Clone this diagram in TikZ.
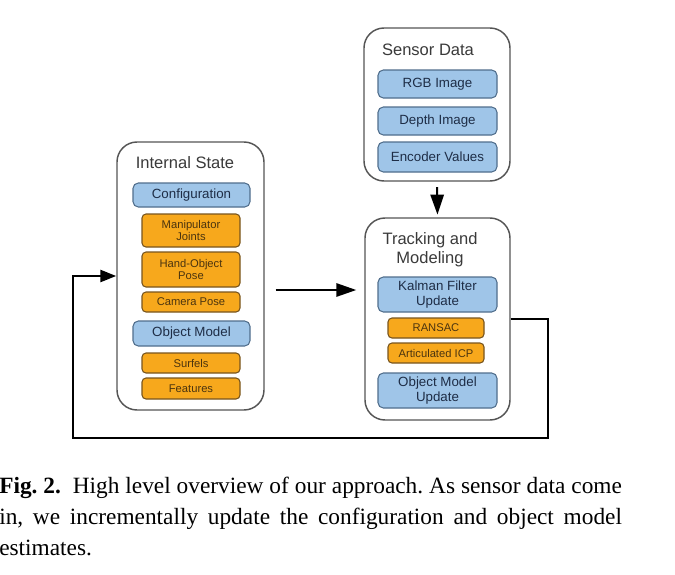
\documentclass[tikz,border=0pt]{standalone}
\usepackage{fontspec}
\setmainfont{Liberation Serif}
\setsansfont{Liberation Sans}
\usetikzlibrary{arrows.meta, calc, positioning}
\definecolor{panelline}{RGB}{85,85,85}
\definecolor{titletext}{RGB}{58,58,58}
\definecolor{bluefill}{RGB}{159,197,232}
\definecolor{blueline}{RGB}{80,110,140}
\definecolor{bluetext}{RGB}{30,45,70}
\definecolor{orangefill}{RGB}{247,168,28}
\definecolor{orangeline}{RGB}{120,85,30}
\definecolor{orangetext}{RGB}{75,52,15}
\tikzset{
  panel/.style={draw=panelline, line width=1.1pt, rounded corners=15pt,
                fill=white},
  paneltitle/.style={text=titletext, font=\sffamily\fontsize{12.4}{14.5}\selectfont,
                     align=center, inner sep=0},
  bluebox/.style={fill=bluefill, draw=blueline, line width=0.8pt,
                  rounded corners=4pt, text=bluetext, align=center, inner sep=0,
                  font=\sffamily\fontsize{10}{11.5}\selectfont},
  orangebox/.style={fill=orangefill, draw=orangeline, line width=0.8pt,
                    rounded corners=3pt, text=orangetext, align=center, inner sep=0,
                    font=\sffamily\fontsize{8.4}{9.6}\selectfont},
  flow/.style={-{Triangle[length=15pt, width=10pt]}, line width=1.5pt},
  feedback/.style={-{Triangle[length=12pt, width=9pt]}, line width=1.9pt},
}

\begin{document}
\begin{tikzpicture}[x=0.75pt, y=-0.75pt]
  \useasboundingbox (0,0) rectangle (675,575);

  % ---- Internal state ----
  \node[panel, minimum width=110.25pt, minimum height=201pt]
    (state) at (190.5,276) {};
  \node[paneltitle] (stateT) at (185,163) {Internal State};
  \node[bluebox, minimum width=87.75pt, minimum height=18pt]
    (config) at (191.5,195) {Configuration};
  \node[orangebox, minimum width=73.5pt, minimum height=24.75pt]
    (joints) at (191,230.5) {Manipulator\\Joints};
  \node[orangebox, minimum width=73.5pt, minimum height=26.25pt]
    (handpose) at (191,269.5) {Hand-Object\\Pose};
  \node[orangebox, minimum width=73.5pt, minimum height=15pt]
    (campose) at (191,302) {Camera Pose};
  \node[bluebox, minimum width=87.75pt, minimum height=18.75pt]
    (objmodel) at (191.5,333.5) {Object Model};
  \node[orangebox, minimum width=73.5pt, minimum height=15pt]
    (surfels) at (191,363) {Surfels};
  \node[orangebox, minimum width=73.5pt, minimum height=15.75pt]
    (features) at (191,388.5) {Features};

  % ---- Sensor data ----
  \node[panel, minimum width=109.5pt, minimum height=114.75pt]
    (sensor) at (437,104.5) {};
  \node[paneltitle] (sensorT) at (428,50) {Sensor Data};
  \node[bluebox, minimum width=89.25pt, minimum height=21pt]
    (rgb) at (437.5,84) {RGB Image};
  \node[bluebox, minimum width=89.25pt, minimum height=21pt]
    (depth) at (437.5,121) {Depth Image};
  \node[bluebox, minimum width=89.25pt, minimum height=22.5pt]
    (encoder) at (437.5,157) {Encoder Values};

  % ---- Tracking and modeling ----
  \node[panel, minimum width=108.75pt, minimum height=151.5pt]
    (track) at (437.5,319) {};
  \node[paneltitle] (trackT) at (430,250) {Tracking and\\Modeling};
  \node[bluebox, minimum width=89.25pt, minimum height=26.25pt]
    (kalman) at (437.5,294.5) {Kalman Filter\\Update};
  \node[orangebox, minimum width=72pt, minimum height=15pt]
    (ransac) at (436,328) {RANSAC};
  \node[orangebox, minimum width=72pt, minimum height=15pt]
    (icp) at (436,353) {Articulated ICP};
  \node[bluebox, minimum width=89.25pt, minimum height=26.25pt]
    (objupdate) at (437.5,390.5) {Object Model\\Update};

  % ---- Connectors ----
  \draw[flow, shorten <=4pt, shorten >=2pt] (sensor.south) -- (track.north);
  \draw[flow] ($(state.east)+(11,14)$) -- ($(track.west)+(-8,-29)$);

  \coordinate (loopR) at (548,438);
  \coordinate (loopL) at (73,438);
  \draw[feedback] (track.east) -| (loopR) -- (loopL) |- (state.west);

  % ---- Caption ----
  \node[anchor=north west, text width=467pt, align=justify, inner sep=0,
        font=\fontsize{17.5}{23}\selectfont\frenchspacing]
    (caption) at (-1,477)
    {\textbf{Fig. 2.}\ \ High level overview of our approach. As sensor data come
     in, we incrementally update the configuration and object model
     \mbox{estimates.}};
\end{tikzpicture}
\end{document}
